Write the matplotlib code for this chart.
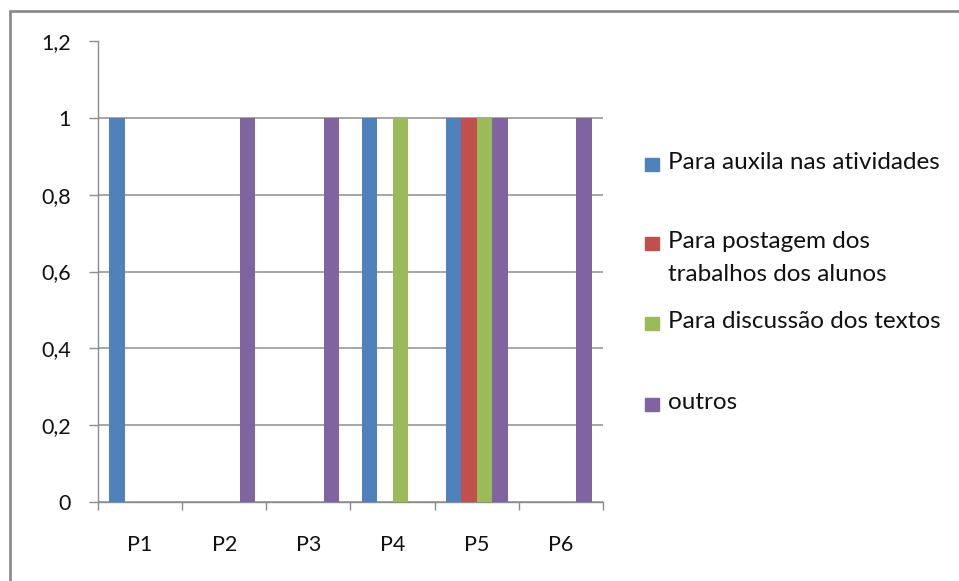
import numpy as np
import matplotlib.pyplot as plt
from matplotlib.patches import Rectangle

plt.rcParams['font.family'] = ['Lato', 'DejaVu Sans']

categorias = ["P1", "P2", "P3", "P4", "P5", "P6"]
series = [
    "Para auxila nas atividades",
    "Para postagem dos\ntrabalhos dos alunos",
    "Para discussão dos textos",
    "outros",
]
auxila = [1, 0, 0, 1, 1, 0]
postagem = [0, 0, 0, 0, 1, 0]
discussao = [0, 0, 0, 1, 1, 0]
outros = [0, 1, 1, 0, 1, 1]
valores = [auxila, postagem, discussao, outros]
cores = ["#4F81BD", "#C0504D", "#9BBB59", "#8064A2"]
yticks = [0, 0.2, 0.4, 0.6, 0.8, 1, 1.2]
ytick_labels = ["0", "0,2", "0,4", "0,6", "0,8", "1", "1,2"]

fig = plt.figure(figsize=(9.59, 5.81), dpi=100)
ax = fig.add_axes([98 / 959, 1 - 501.5 / 581, 505 / 959, 460 / 581])

x = np.arange(len(categorias))
w = 0.184
for i, (vals, cor) in enumerate(zip(valores, cores)):
    ax.bar(x + (i - 1.5) * w, vals, width=w, color=cor, zorder=3)

ax.set_xlim(-0.5, len(categorias) - 0.5)
ax.set_ylim(0, 1.2)
ax.set_yticks(yticks)
ax.set_yticklabels(ytick_labels)
ax.set_xticks(x)
ax.set_xticklabels(categorias)
ax.set_xticks(np.arange(len(categorias) + 1) - 0.5, minor=True)

ax.grid(axis='y', color='#A6A6A6', linewidth=1.4, zorder=0)
for s in ['top', 'right']:
    ax.spines[s].set_visible(False)
for s in ['left', 'bottom']:
    ax.spines[s].set_color('#8C8C8C')
    ax.spines[s].set_linewidth(1.0)
ax.tick_params(axis='y', length=6.5, color='#8C8C8C', width=1.0, pad=13,
               labelsize=15.5, labelcolor='#111111')
ax.tick_params(axis='x', which='major', length=0, pad=24, labelsize=15.5,
               labelcolor='#111111')
ax.tick_params(axis='x', which='minor', length=6, color='#8C8C8C', width=1.0)

# legenda manual (quadrado alinhado com a primeira linha do texto)
leg_y = [164, 243, 323, 404]
for nome, cor, yy in zip(series, cores, leg_y):
    fig.patches.append(Rectangle((645 / 959, 1 - (yy + 6.5) / 581), 14 / 959, 13 / 581,
                                 transform=fig.transFigure, color=cor))
    fig.text(668 / 959, 1 - (yy - 12) / 581, nome, fontsize=17.5, va='top', ha='left',
             color='#111111', linespacing=1.7)

# borda do gráfico
fig.patches.append(Rectangle((10 / 959, -0.1), 1.2, 1 - 11 / 581 + 0.1,
                             transform=fig.transFigure, fill=False,
                             edgecolor='#8C8C8C', linewidth=2.0))

fig.savefig("out.png", dpi=100)
